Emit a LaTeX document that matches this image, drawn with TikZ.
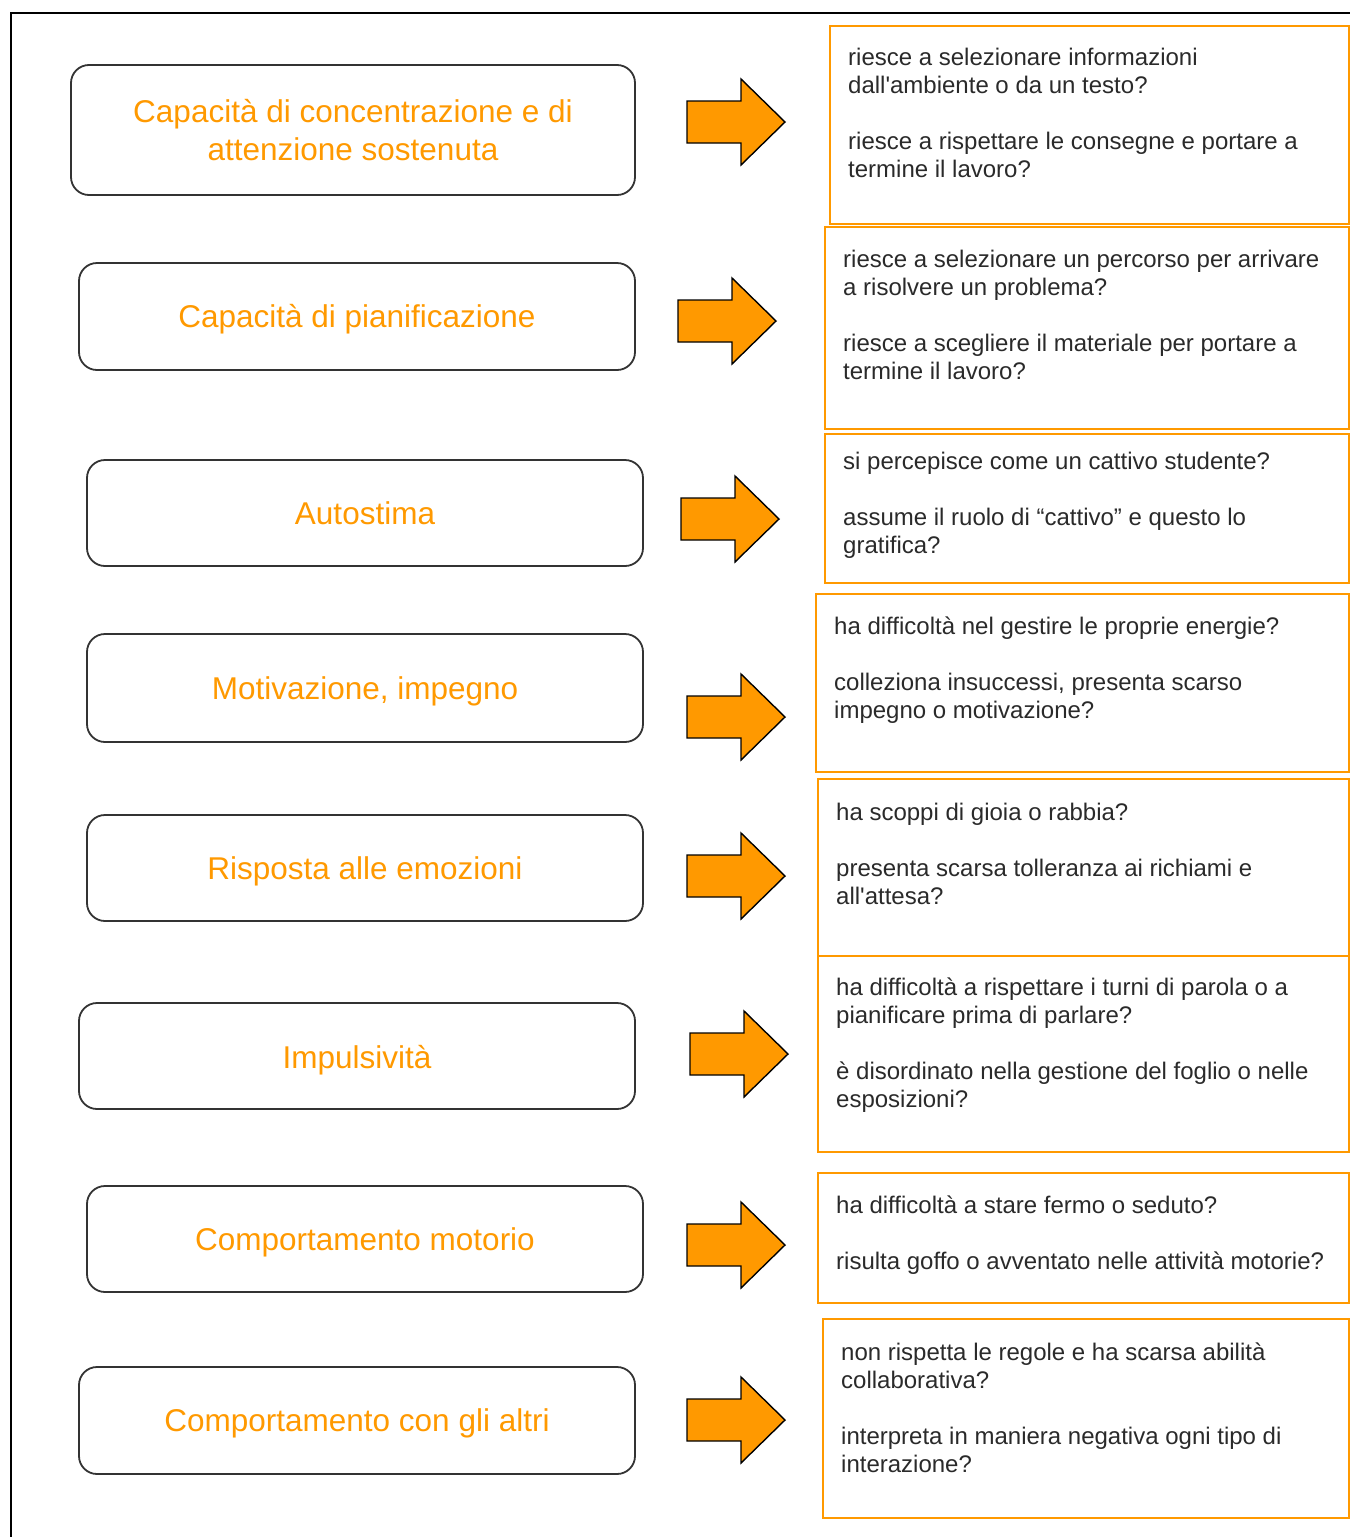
\documentclass[tikz,border=0pt]{standalone}
\usepackage{fontspec}
\setmainfont{Liberation Sans}
\definecolor{gorange}{HTML}{FF9900}
\definecolor{gborder}{HTML}{333333}
\definecolor{gtext}{HTML}{2A2A2A}
\newcommand\garrow[3]{%
  \draw[fatarrow] (#2,#3-21) -- (#2+54,#3-21) -- (#2+54,#3-43) -- (#2+98,#3)
    -- (#2+54,#3+43) -- (#2+54,#3+21) -- (#2,#3+21) -- cycle;
  \coordinate (#1) at (#2+50,#3);}
\begin{document}
\begin{tikzpicture}[x=1pt,y=-1pt,
  lbox/.style={draw=gborder, line width=1.8pt, rounded corners=18pt, inner sep=0pt},
  ltext/.style={text=gorange, font=\fontsize{31.5}{38}\selectfont, align=center, inner sep=0pt, anchor=north},
  rbox/.style={draw=gorange, line width=2pt, inner sep=0pt, anchor=north west},
  rtext/.style={text=gtext, font=\fontsize{24}{28}\selectfont, align=left, inner sep=0pt, anchor=north west},
  fatarrow/.style={fill=gorange, draw=black, line width=1.4pt, line join=miter}]
\useasboundingbox (0,0) rectangle (1350,1537);
\draw[line width=2pt] (11,1537) -- (11,13) -- (1350,13);

% left boxes
\node[lbox, minimum width=564pt, minimum height=130pt] (L1) at (353,130) {};
\node[ltext] (L1t) at (353,122-26.6) {\strut Capacità di concentrazione e di\\attenzione sostenuta};
\node[lbox, minimum width=556pt, minimum height=107pt] (L2) at (357,316.5) {};
\node[ltext] (L2t) at (357,327-26.6) {\strut Capacità di pianificazione};
\node[lbox, minimum width=556pt, minimum height=106pt] (L3) at (365,513) {};
\node[ltext] (L3t) at (365,524-26.6) {\strut Autostima};
\node[lbox, minimum width=556pt, minimum height=108pt] (L4) at (365,688) {};
\node[ltext] (L4t) at (365,699-26.6) {\strut Motivazione, impegno};
\node[lbox, minimum width=556pt, minimum height=106pt] (L5) at (365,868) {};
\node[ltext] (L5t) at (365,879-26.6) {\strut Risposta alle emozioni};
\node[lbox, minimum width=556pt, minimum height=106pt] (L6) at (357,1056) {};
\node[ltext] (L6t) at (357,1068-26.6) {\strut Impulsività};
\node[lbox, minimum width=556pt, minimum height=106pt] (L7) at (365,1239) {};
\node[ltext] (L7t) at (365,1250-26.6) {\strut Comportamento motorio};
\node[lbox, minimum width=556pt, minimum height=107pt] (L8) at (357,1420.5) {};
\node[ltext] (L8t) at (357,1431-26.6) {\strut Comportamento con gli altri};

% arrows
\garrow{A1}{687}{122}
\garrow{A2}{678}{321}
\garrow{A3}{681}{519}
\garrow{A4}{687}{717}
\garrow{A5}{687}{876}
\garrow{A6}{690}{1054}
\garrow{A7}{687}{1245}
\garrow{A8}{687}{1420}

% right boxes
\node[rbox, minimum width=519pt, minimum height=198pt] (R1) at (829,25) {};
\node[rtext] (R1t) at (848,65-19.6) {\strut riesce a selezionare informazioni\\dall\textquotesingle ambiente o da un testo?\\[28pt]riesce a rispettare le consegne e portare a\\termine il lavoro?};
\node[rbox, minimum width=524pt, minimum height=202pt] (R2) at (824,226) {};
\node[rtext] (R2t) at (843,267-19.6) {\strut riesce a selezionare un percorso per arrivare\\a risolvere un problema?\\[28pt]riesce a scegliere il materiale per portare a\\termine il lavoro?};
\node[rbox, minimum width=524pt, minimum height=149pt] (R3) at (824,433) {};
\node[rtext] (R3t) at (843,469-19.6) {\strut si percepisce come un cattivo studente?\\[28pt]assume il ruolo di “cattivo” e questo lo\\gratifica?};
\node[rbox, minimum width=533pt, minimum height=178pt] (R4) at (815,593) {};
\node[rtext] (R4t) at (834,634-19.6) {\strut ha difficoltà nel gestire le proprie energie?\\[28pt]colleziona insuccessi, presenta scarso\\impegno o motivazione?};
\node[rbox, minimum width=531pt, minimum height=177pt] (R5) at (817,778) {};
\node[rtext] (R5t) at (836,820-19.6) {\strut ha scoppi di gioia o rabbia?\\[28pt]presenta scarsa tolleranza ai richiami e\\all\textquotesingle attesa?};
\node[rbox, minimum width=531pt, minimum height=196pt] (R6) at (817,955) {};
\node[rtext] (R6t) at (836,995-19.6) {\strut ha difficoltà a rispettare i turni di parola o a\\pianificare prima di parlare?\\[28pt]è disordinato nella gestione del foglio o nelle\\esposizioni?};
\node[rbox, minimum width=531pt, minimum height=130pt] (R7) at (817,1172) {};
\node[rtext] (R7t) at (836,1213-19.6) {\strut ha difficoltà a stare fermo o seduto?\\[28pt]risulta goffo o avventato nelle attività motorie?};
\node[rbox, minimum width=526pt, minimum height=199pt] (R8) at (822,1318) {};
\node[rtext] (R8t) at (841,1360-19.6) {\strut non rispetta le regole e ha scarsa abilità\\collaborativa?\\[28pt]interpreta in maniera negativa ogni tipo di\\interazione?};
\end{tikzpicture}
\end{document}
